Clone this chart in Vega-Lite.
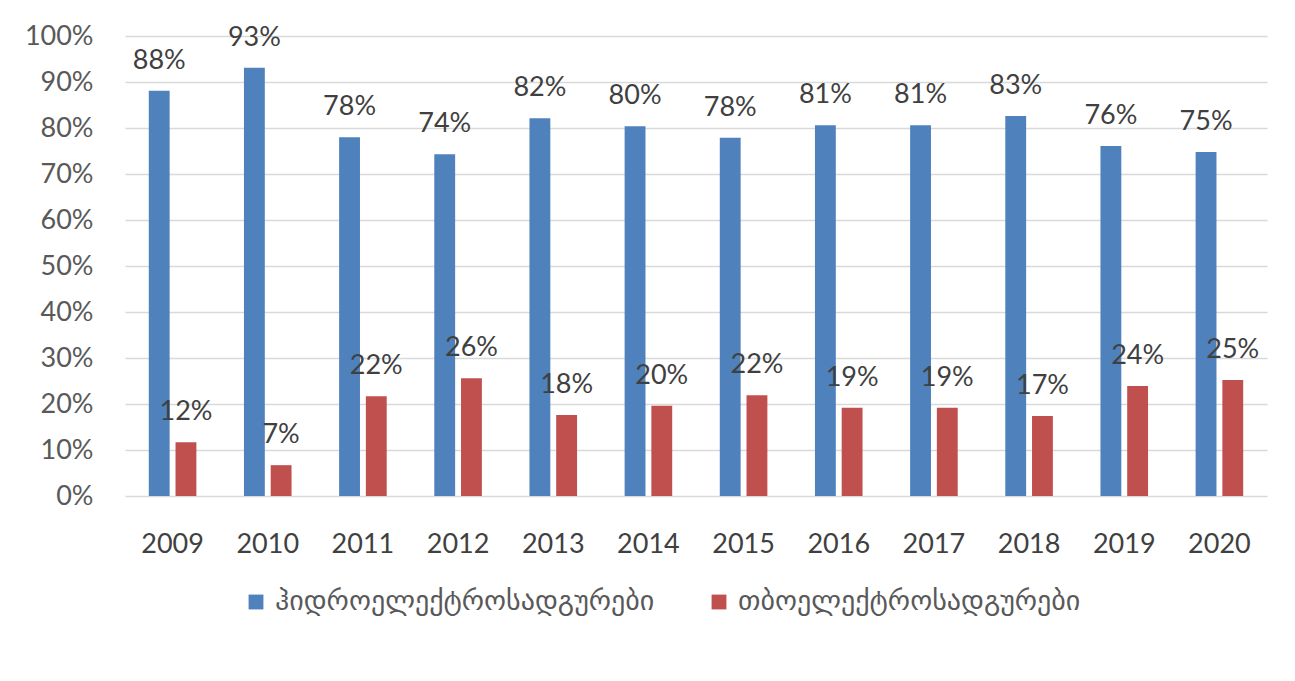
{
  "$schema": "https://vega.github.io/schema/vega-lite/v6.json",
  "autosize": {"type": "none"},
  "width": 1142,
  "height": 460,
  "padding": {"left": 125, "top": 36, "right": 28, "bottom": 185},
  "background": "white",
  "config": {"view": {"stroke": null}, "font": "Lato"},
  "data": {
    "values": [
      {"year": "2009", "type": "ჰიდროელექტროსადგურები", "share": 0.881},
      {"year": "2010", "type": "ჰიდროელექტროსადგურები", "share": 0.931},
      {"year": "2011", "type": "ჰიდროელექტროსადგურები", "share": 0.780},
      {"year": "2012", "type": "ჰიდროელექტროსადგურები", "share": 0.743},
      {"year": "2013", "type": "ჰიდროელექტროსადგურები", "share": 0.821},
      {"year": "2014", "type": "ჰიდროელექტროსადგურები", "share": 0.804},
      {"year": "2015", "type": "ჰიდროელექტროსადგურები", "share": 0.779},
      {"year": "2016", "type": "ჰიდროელექტროსადგურები", "share": 0.806},
      {"year": "2017", "type": "ჰიდროელექტროსადგურები", "share": 0.806},
      {"year": "2018", "type": "ჰიდროელექტროსადგურები", "share": 0.826},
      {"year": "2019", "type": "ჰიდროელექტროსადგურები", "share": 0.761},
      {"year": "2020", "type": "ჰიდროელექტროსადგურები", "share": 0.748},
      {"year": "2009", "type": "თბოელექტროსადგურები", "share": 0.117},
      {"year": "2010", "type": "თბოელექტროსადგურები", "share": 0.067},
      {"year": "2011", "type": "თბოელექტროსადგურები", "share": 0.217},
      {"year": "2012", "type": "თბოელექტროსადგურები", "share": 0.256},
      {"year": "2013", "type": "თბოელექტროსადგურები", "share": 0.176},
      {"year": "2014", "type": "თბოელექტროსადგურები", "share": 0.196},
      {"year": "2015", "type": "თბოელექტროსადგურები", "share": 0.219},
      {"year": "2016", "type": "თბოელექტროსადგურები", "share": 0.192},
      {"year": "2017", "type": "თბოელექტროსადგურები", "share": 0.192},
      {"year": "2018", "type": "თბოელექტროსადგურები", "share": 0.174},
      {"year": "2019", "type": "თბოელექტროსადგურები", "share": 0.239},
      {"year": "2020", "type": "თბოელექტროსადგურები", "share": 0.252}
    ]
  },
  "encoding": {
    "x": {
      "field": "year",
      "type": "nominal",
      "scale": {"paddingInner": 0.5, "paddingOuter": 0.25},
      "axis": {
        "title": null,
        "labelAngle": 0,
        "domain": false,
        "ticks": false,
        "labelPadding": 35,
        "labelFontSize": 27,
        "labelColor": "#404040"
      }
    },
    "xOffset": {
      "field": "type",
      "type": "nominal",
      "sort": ["ჰიდროელექტროსადგურები", "თბოელექტროსადგურები"],
      "scale": {"paddingInner": 0.22}
    },
    "y": {
      "field": "share",
      "type": "quantitative",
      "scale": {"domain": [0, 1]},
      "axis": {
        "title": null,
        "format": ".0%",
        "values": [0, 0.1, 0.2, 0.3, 0.4, 0.5, 0.6, 0.7, 0.8, 0.9, 1],
        "grid": true,
        "gridColor": "#d9d9d9",
        "gridWidth": 1.5,
        "domain": false,
        "ticks": false,
        "labelPadding": 32,
        "labelFontSize": 27,
        "labelColor": "#595959"
      }
    }
  },
  "layer": [
    {
      "mark": {"type": "bar"},
      "encoding": {
        "color": {
          "field": "type",
          "type": "nominal",
          "sort": ["ჰიდროელექტროსადგურები", "თბოელექტროსადგურები"],
          "scale": {"domain": ["ჰიდროელექტროსადგურები", "თბოელექტროსადგურები"], "range": ["#4F81BD", "#C0504D"]},
          "legend": {
            "title": null,
            "orient": "none",
            "legendX": 117,
            "legendY": 552,
            "direction": "horizontal",
            "symbolType": "square",
            "symbolSize": 220,
            "symbolStrokeWidth": 0,
            "labelFont": "DejaVu Sans",
            "labelFontSize": 28,
            "labelColor": "#595959",
            "labelLimit": 0,
            "labelOffset": 5,
            "columnPadding": 50
          }
        }
      }
    },
    {
      "mark": {"type": "text", "dy": -30, "fontSize": 27, "color": "#404040", "baseline": "middle"},
      "encoding": {
        "text": {"field": "share", "type": "quantitative", "format": ".0%"}
      }
    }
  ]
}
